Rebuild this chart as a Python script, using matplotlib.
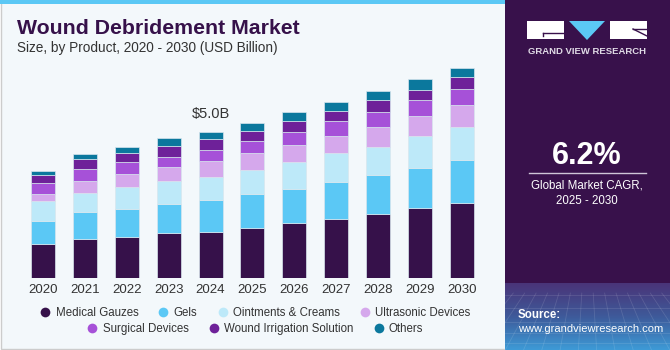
import numpy as np
import matplotlib
matplotlib.use('Agg')
import matplotlib.pyplot as plt
from matplotlib.patches import Rectangle, Polygon
from matplotlib.lines import Line2D

plt.rcParams['font.family'] = ['Liberation Sans', 'DejaVu Sans']

years = ["2020", "2021", "2022", "2023", "2024", "2025", "2026", "2027", "2028", "2029", "2030"]
segments = ["Medical Gauzes", "Gels", "Ointments & Creams", "Ultrasonic Devices",
            "Surgical Devices", "Wound Irrigation Solution", "Others"]
medical_gauzes = [1.16, 1.33, 1.39, 1.53, 1.56, 1.70, 1.87, 2.00, 2.20, 2.38, 2.55]
gels = [0.79, 0.92, 0.96, 0.99, 1.10, 1.17, 1.18, 1.29, 1.33, 1.39, 1.49]
ointments = [0.67, 0.66, 0.77, 0.79, 0.79, 0.82, 0.92, 0.97, 0.96, 1.09, 1.12]
ultrasonic = [0.25, 0.41, 0.43, 0.48, 0.55, 0.59, 0.59, 0.60, 0.68, 0.68, 0.76]
surgical = [0.38, 0.40, 0.42, 0.34, 0.39, 0.40, 0.43, 0.49, 0.51, 0.55, 0.54]
irrigation = [0.27, 0.35, 0.30, 0.39, 0.36, 0.34, 0.36, 0.35, 0.41, 0.34, 0.42]
others = [0.14, 0.18, 0.22, 0.26, 0.25, 0.27, 0.31, 0.32, 0.30, 0.38, 0.31]
colors = ["#36114a", "#5bc8f5", "#bde9f9", "#d5a8ec", "#a651d8", "#6e2199", "#0b789d"]
label_year = "2024"
label_text = "$5.0B"
cagr = "6.2%"

W, H = 670, 350
fig = plt.figure(figsize=(6.7, 3.5), dpi=100)
fig.patch.set_facecolor("white")

def fx(px):
    return px / W

def fy(py):
    return 1 - py / H

# background panels
fig.add_artist(Rectangle((fx(1), 0.003), fx(510), 0.99, transform=fig.transFigure,
                         facecolor="#f3f8fb", edgecolor="#cccccc", linewidth=1, zorder=0))
fig.add_artist(Rectangle((0, fy(4)), fx(510), 4 / H, transform=fig.transFigure,
                         facecolor="#5bc8f5", edgecolor="none", zorder=0))
fig.add_artist(Rectangle((fx(505), 0), fx(165), 1, transform=fig.transFigure,
                         facecolor="#38114b", edgecolor="none", zorder=0))

# gradient at the bottom of the right panel
gax = fig.add_axes([fx(505), 0, fx(165), 67 / H])
grad = np.linspace(0, 1, 100).reshape(-1, 1)
cmap = matplotlib.colors.LinearSegmentedColormap.from_list("g", ["#3d9ad6", "#3e5a9a", "#4a3478"])
gax.imshow(grad, aspect="auto", cmap=cmap, extent=[0, 1, 0, 1], origin="lower")
for t in np.linspace(0.05, 0.95, 14):
    gax.plot([t, 0.5 + (t - 0.5) * 1.6], [0.85, 0], color="white", alpha=0.12, lw=0.6)
for t in [0.1, 0.25, 0.42, 0.62, 0.82]:
    gax.axhline(t, color="white", alpha=0.12, lw=0.6)
gax.set_xlim(0, 1)
gax.set_ylim(0, 1)
gax.axis("off")

# main chart
ax = fig.add_axes([fx(17.9), fy(278), fx(469), 218 / H])
ax.set_facecolor("none")
x = np.arange(len(years))
data = [medical_gauzes, gels, ointments, ultrasonic, surgical, irrigation, others]
bottom = np.zeros(len(years))
for vals, col, name in zip(data, colors, segments):
    ax.bar(x, vals, 0.573, bottom=bottom, color=col, edgecolor="#d8e6ee", linewidth=0.5, label=name)
    bottom += np.array(vals)

i = years.index(label_year)
ax.text(x[i], bottom[i] + 0.38, label_text, ha="center", va="bottom", fontsize=10.5, color="#333333")

ax.set_xlim(-0.6, 10.6)
ax.set_ylim(0, 7.45)
ax.set_xticks(x)
ax.set_xticklabels(years, fontsize=9.5, color="#333333")
ax.tick_params(axis="x", length=0, pad=4)
ax.set_yticks([])
for s in ax.spines.values():
    s.set_visible(False)

# titles
fig.text(fx(17), fy(28), "Wound Debridement Market", fontsize=15.3, fontweight="bold",
         color="#36114a", va="center", ha="left")
fig.text(fx(17), fy(48), "Size, by Product, 2020 - 2030 (USD Billion)", fontsize=9.8,
         color="#333333", va="center", ha="left")

# legend, two centred rows
handles = [Line2D([], [], marker="o", linestyle="none", markersize=7, markerfacecolor=c,
                  markeredgecolor="none") for c in colors]
kw = dict(frameon=False, fontsize=8.3, handletextpad=0.4, columnspacing=1.67,
          handlelength=1.0, borderpad=0, borderaxespad=0)
leg1 = fig.legend(handles[:4], segments[:4], loc="center", bbox_to_anchor=(fx(255), fy(313)),
                  ncol=4, **kw)
leg2 = fig.legend(handles[4:], segments[4:], loc="center", bbox_to_anchor=(fx(255), fy(329)),
                  ncol=3, **kw)
for leg in (leg1, leg2):
    for t in leg.get_texts():
        t.set_color("#333333")

# logo
fig.add_artist(Rectangle((fx(527), fy(39)), fx(37), 18 / H, transform=fig.transFigure,
                         facecolor="white", edgecolor="none"))
fig.add_artist(Line2D([fx(543), fx(564)], [fy(33), fy(33)], transform=fig.transFigure,
                      color="#38114b", lw=1))
fig.add_artist(Line2D([fx(543), fx(543)], [fy(33), fy(36)], transform=fig.transFigure,
                      color="#38114b", lw=1))
fig.add_artist(Polygon([[fx(569), fy(21)], [fx(605), fy(21)], [fx(587), fy(40)]],
                       transform=fig.transFigure, facecolor="#5bc8f5", edgecolor="none"))
fig.add_artist(Rectangle((fx(610), fy(39)), fx(37), 18 / H, transform=fig.transFigure,
                         facecolor="white", edgecolor="none"))
fig.add_artist(Line2D([fx(633), fx(647)], [fy(29), fy(36)], transform=fig.transFigure,
                      color="#38114b", lw=1))
fig.add_artist(Line2D([fx(633), fx(647)], [fy(29), fy(29)], transform=fig.transFigure,
                      color="#38114b", lw=1))
fig.text(fx(587), fy(51), "GRAND VIEW RESEARCH", fontsize=6.8, fontweight="bold",
         color="#e0dbe6", ha="center", va="center")

# CAGR box
fig.text(fx(587), fy(156), cagr, fontsize=22, fontweight="bold", color="white",
         ha="center", va="center")
fig.add_artist(Line2D([fx(529), fx(646)], [fy(173), fy(173)], transform=fig.transFigure,
                      color="#cfc6d8", lw=1))
fig.text(fx(587), fy(185), "Global Market CAGR,", fontsize=8.3, color="white", ha="center", va="center")
fig.text(fx(587), fy(201), "2025 - 2030", fontsize=8.3, color="white", ha="center", va="center")

# source
fig.text(fx(518), fy(315), "Source:", fontsize=8.3, fontweight="bold", color="white", ha="left", va="center")
fig.text(fx(518), fy(329), "www.grandviewresearch.com", fontsize=8.0, color="white", ha="left", va="center")

fig.savefig("out.png", dpi=100, facecolor=fig.get_facecolor())
